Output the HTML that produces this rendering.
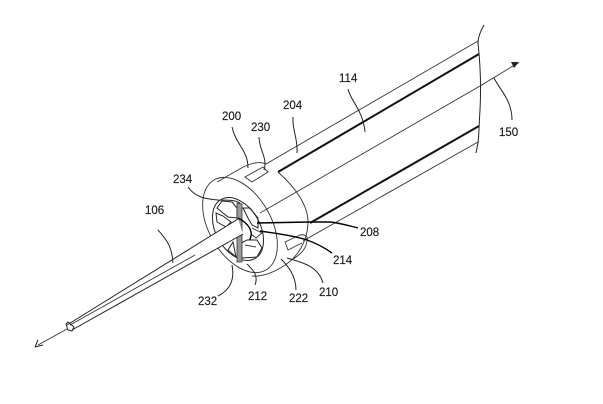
<!DOCTYPE html>
<html><head><meta charset="utf-8"><style>
html,body{margin:0;padding:0;background:#fff;width:603px;height:404px;overflow:hidden}
svg{display:block}
text{font-family:"Liberation Sans",sans-serif;font-size:11.5px;fill:#1a1a1a;stroke:#1a1a1a;stroke-width:.15px}
.t{fill:none;stroke:#333;stroke-width:.9}
.m{fill:none;stroke:#222;stroke-width:1}
.k{fill:none;stroke:#111;stroke-width:2}
.l{fill:none;stroke:#222;stroke-width:1}
.d{fill:none;stroke:#000;stroke-width:1.4}
</style></head><body>
<svg width="603" height="404" viewBox="0 0 603 404">
<g style="filter:blur(.3px)">
<!-- cylinder lines -->
<path class="t" d="M266 164L478 41"/>
<path class="k" d="M278 172L479 54"/>
<path class="t" d="M260 213L480 86"/>
<path class="k" d="M310 223L479 126"/>
<path class="t" d="M303 241L478 142"/>
<path class="m" d="M484 25C480 32 478 38 478 43C481 70 481 90 480 110C479 125 479 135 478 143L476 153"/>
<!-- axis arrow -->
<path class="t" d="M480 86L518 63"/>
<path d="M519 62L511 62L514 68Z" fill="#222"/>
<!-- face and body -->
<ellipse class="t" cx="240" cy="225" rx="52" ry="31" transform="rotate(60 240 225)"/>
<path class="t" d="M217 182L238 170C246 165 258 160 266 164"/>
<path class="t" d="M278 172C295 187 308 205 308 222C308 240 298 258 282 267C272 273 262 277 252 276"/>
<!-- slots -->
<path class="t" d="M245 177L263 167L268 172L252 182Z"/>
<path class="t" d="M285 242L300 235C305 234 308 236 307 241C306 249 300 255 293 259"/>
<path class="t" d="M285 242L288 250L302 243"/>
<!-- inner window -->
<ellipse class="m" cx="238" cy="229" rx="34" ry="22" transform="rotate(60 238 229)" fill="#fff"/>
<path class="m" d="M217 208L222 201L232 202L237 208L237 218L228 217L223 213Z" fill="#fff"/>
<path class="m" d="M216 213L217 222L226 227L231 222L223 216Z" fill="#fff"/>
<path class="m" d="M238 245L242 258L257 257L262 248L257 240L247 240Z" fill="#fff"/>
<path class="m" d="M233 242L236 257L228 250Z" fill="#fff"/>
<path class="m" d="M243 208L248 218L252 225L258 228L258 218L250 208Z" fill="#fff"/>
<path class="t" d="M245 245L256 247M252 228L262 233L256 238L251 234"/>
<path d="M237 203L242 204L242 262L237 262Z" fill="#999" stroke="#333" stroke-width=".8"/>
<!-- needle -->
<path d="M67 325L72 330L243 234L238 219Z" fill="#fff"/>
<path class="m" d="M67 325L238 219"/>
<path class="m" d="M72 330L243 234"/>
<path class="t" d="M70 325L195 255"/>
<path class="d" d="M238 218C244 221 250 226 251 232C252 235 250 238 250 240"/>
<path class="m" d="M66 324L68 330L72 331L74 327L68 322Z"/>
<path class="t" d="M67 329L38 345"/>
<path class="m" d="M35 347L43 345M35 347L38 340"/>
<!-- leaders -->
<path class="l" d="M232 127C236 145 248 150 248 168"/>
<path class="l" d="M259 137C259 150 268 158 264 170"/>
<path class="l" d="M293 117C292 130 298 138 297 153"/>
<path class="l" d="M188 187C195 197 205 199 218 200C228 200 235 200 240 203"/>
<path class="l" d="M158 230C165 238 172 245 173 263"/>
<path class="l" d="M348 89C350 100 363 110 365 132"/>
<path class="l" d="M494 78C500 90 512 100 512 120"/>
<path class="d" d="M257 223L310 222L330 222C340 223 350 226 358 228"/>
<path class="d" d="M260 231C280 234 295 236 307 240C318 244 325 248 332 253"/>
<path class="l" d="M287 258C300 262 318 265 323 283"/>
<path class="l" d="M281 259C287 265 296 275 296 290"/>
<path class="l" d="M247 264C252 269 259 275 255 285"/>
<path class="l" d="M232 265C235 280 230 290 218 296"/>
</g>
<text x="339" y="82">114</text>
<text x="283" y="109">204</text>
<text x="222" y="120">200</text>
<text x="251" y="131">230</text>
<text x="173" y="183">234</text>
<text x="145" y="214">106</text>
<text x="499" y="136">150</text>
<text x="360" y="236">208</text>
<text x="333" y="264">214</text>
<text x="319" y="296">210</text>
<text x="289" y="302">222</text>
<text x="248" y="300">212</text>
<text x="198" y="305">232</text>
</svg>
</body></html>
